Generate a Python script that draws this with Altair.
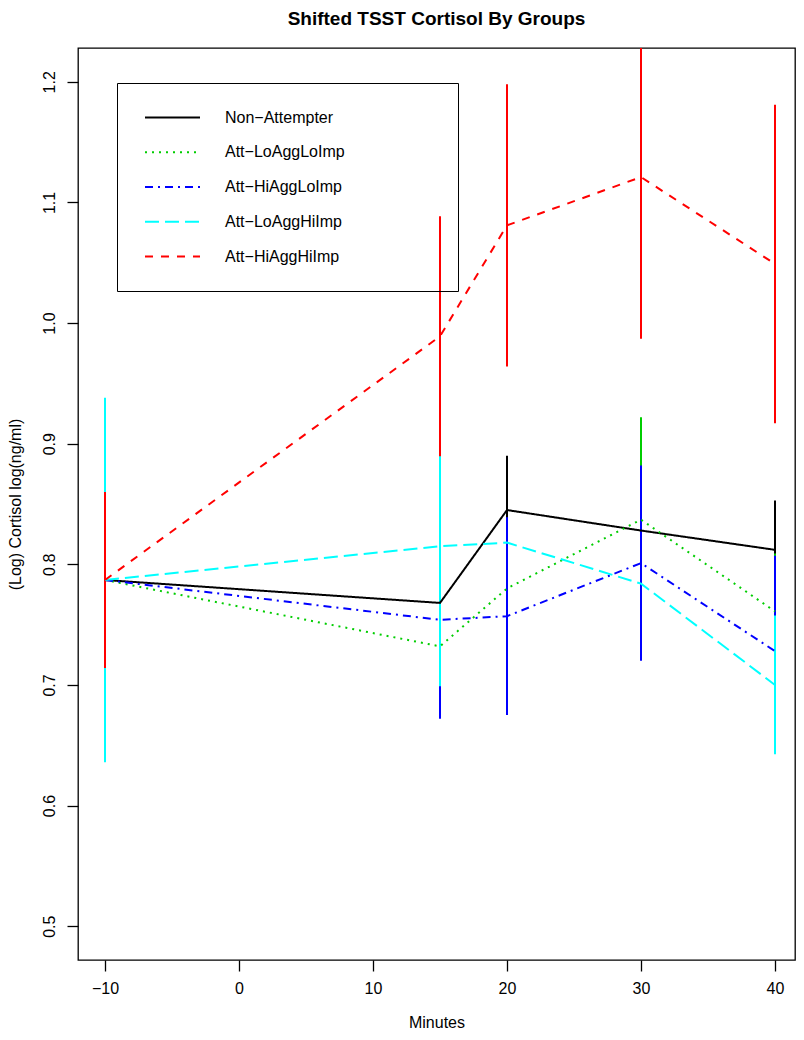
import altair as alt
import pandas as pd

# ---- data ----
minutes = [-10, 15, 20, 30, 40]
groups = ["Non−Attempter", "Att−LoAggLoImp", "Att−HiAggLoImp", "Att−LoAggHiImp", "Att−HiAggHiImp"]
colors = ["#000000", "#00CD00", "#0000FF", "#00FFFF", "#FF0000"]
dashes = [[1, 0], [2, 5], [8, 5, 2, 5], [14, 6], [8, 8]]

mean_non = [0.787, 0.768, 0.845, 0.828, 0.812]
mean_lolo = [0.787, 0.732, 0.780, 0.837, 0.761]
mean_hilo = [0.787, 0.754, 0.757, 0.801, 0.728]
mean_lohi = [0.787, 0.815, 0.818, 0.784, 0.700]
mean_hihi = [0.787, 0.989, 1.081, 1.121, 1.049]

se_non = [0.045, 0.050, 0.045, 0.060, 0.041]
se_lolo = [0.060, 0.050, 0.050, 0.085, 0.048]
se_hilo = [0.055, 0.082, 0.082, 0.081, 0.079]
se_lohi = [0.151, 0.116, None, None, 0.0575]
se_hihi = [0.073, 0.0995, 0.117, 0.134, 0.132]

x_ticks = [-10, 0, 10, 20, 30, 40]
y_ticks = [0.5, 0.6, 0.7, 0.8, 0.9, 1.0, 1.1, 1.2]

means = [mean_non, mean_lolo, mean_hilo, mean_lohi, mean_hihi]
ses = [se_non, se_lolo, se_hilo, se_lohi, se_hihi]

rows = []
for gi, g in enumerate(groups):
    for mi, m in enumerate(minutes):
        mu = means[gi][mi]
        se = ses[gi][mi]
        rows.append({
            "group": g, "minute": m, "mean": mu,
            "lo": None if se is None else mu - se,
            "hi": None if se is None else mu + se,
        })
df = pd.DataFrame(rows)
err_df = df.dropna(subset=["lo", "hi"]).reset_index(drop=True)

FONT = "Liberation Sans"
PLOT_W = 717
PLOT_H = 912
PX_PER_MIN = 13.4          # keeps every error bar on whole pixels
X_LO = -10 - 27 / PX_PER_MIN
X_HI = X_LO + PLOT_W / PX_PER_MIN

xscale = alt.Scale(domain=[X_LO, X_HI], nice=False, zero=False)
yscale = alt.Scale(domain=[0.472, 1.228], nice=False, zero=False, clamp=True)
cscale = alt.Scale(domain=groups, range=colors)
dscale = alt.Scale(domain=groups, range=dashes)

# invisible legend title on the right, only there to widen the legend box
leg = alt.Legend(
    title="MMMMMM", titleOrient="right", titleFontSize=15, titleFont=FONT,
    titlePadding=12, titleOpacity=0,
    orient="none", legendX=39, legendY=35, direction="vertical",
    strokeColor="black", padding=26, symbolType="M-3.667,0H3.667",
    symbolSize=225, symbolStrokeWidth=2, symbolOffset=21, labelOffset=44,
    labelFontSize=16, labelFont=FONT, labelColor="black", rowPadding=17.75,
    labelLimit=500,
)

xaxis = alt.Axis(
    values=x_ticks, title="Minutes", grid=False, domain=False, tickSize=11,
    tickColor="black", tickWidth=1.3, labelFontSize=16, labelFont=FONT,
    labelColor="black", labelPadding=9, labelFlush=False, titleFontSize=16,
    titleFont=FONT, titleFontWeight="normal", titleColor="black", titleY=67,
    titleBaseline="alphabetic",
)
yaxis = alt.Axis(
    values=y_ticks, format=".1f", title="(Log) Cortisol log(ng/ml)", grid=False,
    domain=False, tickSize=11, tickColor="black", tickWidth=1.3,
    labelFontSize=16, labelFont=FONT, labelColor="black", labelAngle=270,
    labelAlign="center", labelBaseline="alphabetic", labelPadding=13,
    labelFlush=False, titleFontSize=16, titleFont=FONT, titleFontWeight="normal",
    titleColor="black", titleAngle=270, titleX=-63, titleY=PLOT_H / 2,
    titleAlign="center", titleBaseline="middle",
)

bars = alt.Chart(err_df).mark_rule(strokeWidth=2, clip=True).encode(
    x=alt.X("minute:Q", scale=xscale, axis=xaxis),
    y=alt.Y("lo:Q", scale=yscale, axis=yaxis),
    y2="hi:Q",
    color=alt.Color("group:N", scale=cscale, legend=leg),
)

lines = alt.Chart(df).mark_line(strokeWidth=2, clip=True).encode(
    x=alt.X("minute:Q", scale=xscale, axis=xaxis),
    y=alt.Y("mean:Q", scale=yscale, axis=yaxis),
    color=alt.Color("group:N", scale=cscale, legend=leg),
    strokeDash=alt.StrokeDash("group:N", scale=dscale, legend=leg),
    detail="group:N",
)

chart = alt.layer(bars, lines).properties(
    width=PLOT_W, height=PLOT_H,
    background="white",
    autosize=alt.AutoSizeParams(type="none"),
    padding={"left": 70, "top": 40, "right": 1, "bottom": 72},
    title=alt.TitleParams(
        text="Shifted TSST Cortisol By Groups", font=FONT, fontSize=19,
        fontWeight="bold", color="black", anchor="middle",
        baseline="alphabetic", offset=4,
    ),
).configure_view(stroke="black", strokeWidth=1.3)

chart.save("out.html", embed_options={"renderer": "svg", "actions": False})
